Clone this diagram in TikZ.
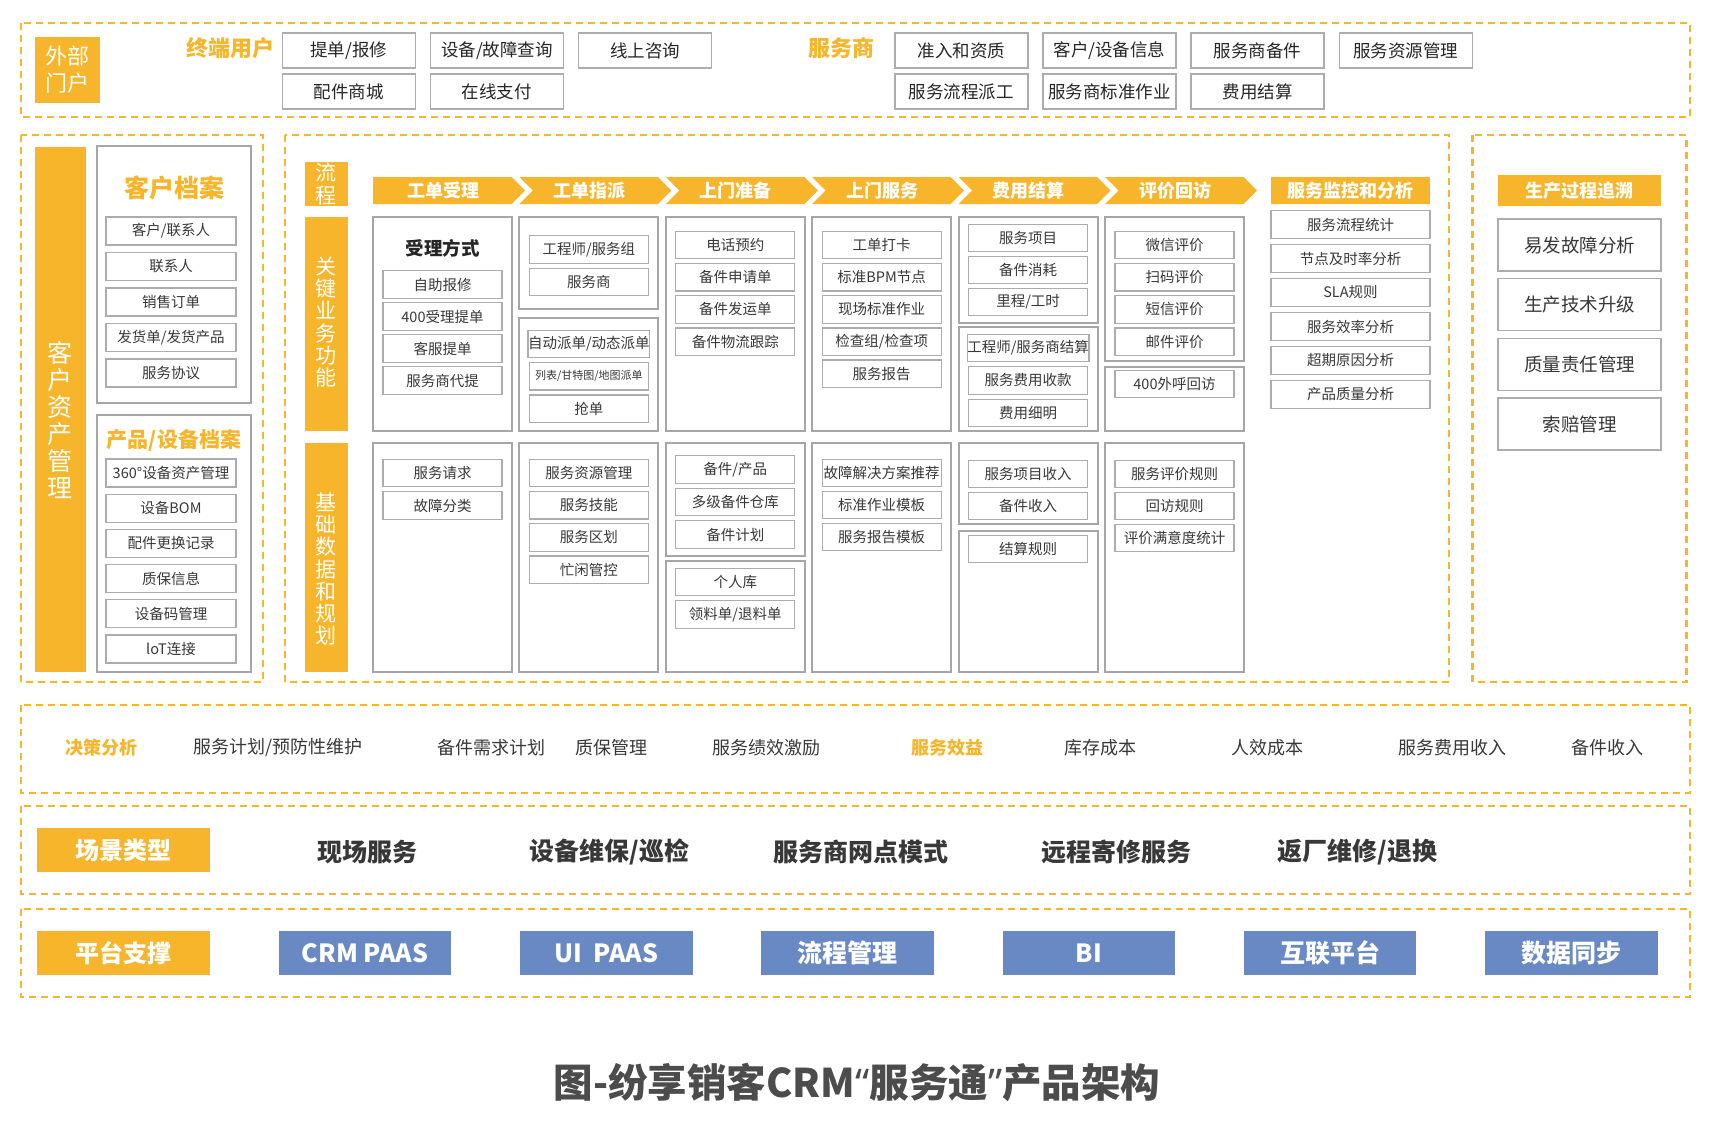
\documentclass[tikz,border=0pt]{standalone}
\usepackage{fontspec}
\setmainfont{Noto Sans CJK SC}
\newfontfamily\quotefont{Noto Sans}
\definecolor{orangeC}{RGB}{247,181,44}
\definecolor{blueC}{RGB}{104,137,196}
\definecolor{txtC}{RGB}{56,56,56}
\definecolor{lineC}{RGB}{172,172,172}
\newcommand{\fsz}[1]{\fontsize{#1}{#1}\selectfont}
% chevron of the process row: x, notch (0/1), name, text
\newcommand{\flowstep}[4]{%
  \fill[orangeC] (#1,177) -- ({#1+138.5},177) -- ({#1+152},190.5) -- ({#1+138.5},204) -- (#1,204) -- ({#1+13.5*#2},190.5) -- cycle;
  \node[steptext] (#3) at ({#1+70},190.5) {#4};}
\tikzset{
  zone/.style={draw=orangeC, line width=2.5, dash pattern=on 7 off 5},
  tag/.style={fill=orangeC, text=white, inner sep=0, font=\fsz{18}\bfseries},
  steptext/.style={text=white, inner sep=0, font=\fsz{18}\bfseries},
  vtext/.style={text=white, inner sep=0, align=center, font=\fontsize{21}{22.3}\selectfont},
  portal/.style={draw=lineC, line width=1.5, fill=white, minimum width=133, minimum height=35, inner sep=0, text=black!85, font=\fsz{17.5}},
  item/.style={draw=lineC, line width=1.3, fill=white, minimum width=119, minimum height=27.5, inner sep=0, text=txtC, font=\fsz{14.5}},
  sideitem/.style={item, minimum width=130, minimum height=28},
  panel/.style={draw=black!35, line width=2},
  head/.style={text=orangeC, inner sep=0, font=\fsz{22}\bfseries},
  plain/.style={text=txtC, inner sep=0, font=\fsz{18}},
  scene/.style={text=txtC, inner sep=0, font=\fsz{25}\bfseries},
  platform/.style={fill=blueC, text=white, minimum width=172.5, minimum height=44, inner sep=0, font=\fsz{25}\bfseries},
}
\begin{document}
\begin{tikzpicture}[x=1pt, y=-1pt]
  %%%%% START %%%%%
  \useasboundingbox (0,0) rectangle (1710,1128);

  %% external portal
  \draw[zone] (21,23) rectangle (1690,117);
  \node[tag, minimum width=65.5, minimum height=66, align=center, font=\fontsize{22}{27}\selectfont] (portal) at (67.25,70) {外部\\门户};
  \node[head] (enduser) at (230,48) {终端用户};
  \node[head] (provider) at (841,48) {服务商};
  \foreach \t [count=\i from 0] in {提单/报修,设备/故障查询,线上咨询}
    \node[portal] (eu\i) at ({348.75+148.2*\i},50.5) {\t};
  \foreach \t [count=\i from 0] in {配件商城,在线支付}
    \node[portal] (ev\i) at ({348.75+148.2*\i},91.5) {\t};
  \foreach \t [count=\i from 0] in {准入和资质,客户/设备信息,服务商备件,服务资源管理}
    \node[portal] (sp\i) at ({961.25+148.2*\i},50.5) {\t};
  \foreach \t [count=\i from 0] in {服务流程派工,服务商标准作业,费用结算}
    \node[portal] (sq\i) at ({961.25+148.2*\i},91.5) {\t};

  %% customer assets
  \draw[zone] (21,135) rectangle (263,682);
  \fill[orangeC] (34.5,147) rectangle (86,672);
  \node[vtext, font=\fontsize{25}{27}\selectfont] (asset) at (60.25,420) {客\\户\\资\\产\\管\\理};
  \draw[panel] (97,146) rectangle (251,403);
  \node[head, font=\fsz{25}\bfseries] (custfile) at (174,188) {客户档案};
  \foreach \t [count=\i from 0] in {客户/联系人,联系人,销售订单,发货单/发货产品,服务协议}
    \node[sideitem] (cf\i) at (171,{231+35.5*\i}) {\t};
  \draw[panel] (97,415) rectangle (251,672);
  \node[head, font=\fsz{21}\bfseries] (prodfile) at (174,440) {产品/设备档案};
  \foreach \t [count=\i from 0] in {360°设备资产管理,设备BOM,配件更换记录,质保信息,设备码管理,loT连接}
    \node[sideitem] (pf\i) at (171,{473+35.2*\i}) {\t};

  %% service process
  \draw[zone] (285,135) rectangle (1449,682);
  \fill[orangeC] (304.5,162) rectangle (348,206);
  \node[vtext] (flow) at (326.25,184) {流\\程};
  \fill[orangeC] (304.5,217) rectangle (348,431);
  \node[vtext] (keyfn) at (326.25,322) {关\\键\\业\\务\\功\\能};
  \fill[orangeC] (304.5,443) rectangle (348,672);
  \node[vtext] (basedata) at (326.25,569) {基\\础\\数\\据\\和\\规\\划};

  \flowstep{373}{0}{st0}{工单受理}
  \flowstep{519.4}{1}{st1}{工单指派}
  \flowstep{665.8}{1}{st2}{上门准备}
  \flowstep{812.2}{1}{st3}{上门服务}
  \flowstep{958.6}{1}{st4}{费用结算}
  \flowstep{1105}{1}{st5}{评价回访}

  % key functions
  \draw[panel] (373,217) rectangle (512,431);
  \draw[panel] (519.4,217) rectangle (658.4,309);
  \draw[panel] (519.4,318) rectangle (658.4,431);
  \draw[panel] (665.8,217) rectangle (804.8,431);
  \draw[panel] (812.2,217) rectangle (951.2,431);
  \draw[panel] (958.6,217) rectangle (1097.6,323);
  \draw[panel] (958.6,327) rectangle (1097.6,431);
  \draw[panel] (1105,217) rectangle (1244,361);
  \draw[panel] (1105,367) rectangle (1244,431);

  \node[text=black!85, inner sep=0, font=\fsz{18.5}\bfseries] (accept) at (442.5,248) {受理方式};
  \foreach \t [count=\i from 0] in {自助报修,400受理提单,客服提单,服务商代提}
    \node[item] (ka\i) at (442.5,{284.5+32*\i}) {\t};
  \foreach \t [count=\i from 0] in {工程师/服务组,服务商}
    \node[item] (kb\i) at (588.9,{249.5+32.5*\i}) {\t};
  \foreach \t [count=\i from 0] in {自动派单/动态派单,{\fsz{11}列表/甘特图/地图派单},抢单}
    \node[item] (kc\i) at (588.9,{344+32.3*\i}) {\t};
  \foreach \t [count=\i from 0] in {电话预约,备件申请单,备件发运单,备件物流跟踪}
    \node[item] (kd\i) at (735.3,{245+32.2*\i}) {\t};
  \foreach \t [count=\i from 0] in {工单打卡,标准BPM节点,现场标准作业,检查组/检查项,服务报告}
    \node[item] (ke\i) at (881.7,{245+32.2*\i}) {\t};
  \foreach \t [count=\i from 0] in {服务项目,备件消耗,里程/工时}
    \node[item] (kf\i) at (1028.1,{238+32*\i}) {\t};
  \foreach \t [count=\i from 0] in {工程师/服务商结算,服务费用收款,费用细明}
    \node[item] (kg\i) at (1028.1,{348+32.5*\i}) {\t};
  \foreach \t [count=\i from 0] in {微信评价,扫码评价,短信评价,邮件评价}
    \node[item] (kh\i) at (1174.5,{245+32.2*\i}) {\t};
  \node[item] (ki0) at (1174.5,384) {400外呼回访};

  % base data
  \draw[panel] (373,443) rectangle (512,672);
  \draw[panel] (519.4,443) rectangle (658.4,672);
  \draw[panel] (665.8,443) rectangle (804.8,556);
  \draw[panel] (665.8,561) rectangle (804.8,672);
  \draw[panel] (812.2,443) rectangle (951.2,672);
  \draw[panel] (958.6,443) rectangle (1097.6,524);
  \draw[panel] (958.6,531) rectangle (1097.6,672);
  \draw[panel] (1105,443) rectangle (1244,672);

  \foreach \t [count=\i from 0] in {服务请求,故障分类}
    \node[item] (ba\i) at (442.5,{473+32.5*\i}) {\t};
  \foreach \t [count=\i from 0] in {服务资源管理,服务技能,服务区划,忙闲管控}
    \node[item] (bb\i) at (588.9,{473+32.2*\i}) {\t};
  \foreach \t [count=\i from 0] in {备件/产品,多级备件仓库,备件计划}
    \node[item] (bc\i) at (735.3,{469.5+32.5*\i}) {\t};
  \foreach \t [count=\i from 0] in {个人库,领料单/退料单}
    \node[item] (bd\i) at (735.3,{582+32.5*\i}) {\t};
  \foreach \t [count=\i from 0] in {故障解决方案推荐,标准作业模板,服务报告模板}
    \node[item] (be\i) at (881.7,{473+32*\i}) {\t};
  \foreach \t [count=\i from 0] in {服务项目收入,备件收入}
    \node[item] (bf\i) at (1028.1,{474+32*\i}) {\t};
  \node[item] (bg0) at (1028.1,549) {结算规则};
  \foreach \t [count=\i from 0] in {服务评价规则,回访规则,评价满意度统计}
    \node[item] (bh\i) at (1174.5,{474+32*\i}) {\t};

  % monitoring
  \node[tag, minimum width=159, minimum height=27] (monitor) at (1350.5,190.5) {服务监控和分析};
  \foreach \t [count=\i from 0] in {服务流程统计,节点及时率分析,SLA规则,服务效率分析,超期原因分析,产品质量分析}
    \node[item, minimum width=159, minimum height=28] (mo\i) at (1350.5,{224.5+34*\i}) {\t};

  %% production tracing
  \draw[zone] (1472.6,135) rectangle (1686.5,682);
  \node[tag, minimum width=163, minimum height=31] (trace) at (1579.5,190.5) {生产过程追溯};
  \foreach \t [count=\i from 0] in {易发故障分析,生产技术升级,质量责任管理,索赔管理}
    \node[item, minimum width=163, minimum height=52, font=\fsz{18.5}] (tr\i) at (1579.5,{245+59.7*\i}) {\t};

  %% decision analysis
  \draw[zone] (21,705) rectangle (1690,793);
  \node[head, font=\fsz{18}\bfseries] (decide) at (101,748) {决策分析};
  \node[plain] (dA) at (278,748) {服务计划/预防性维护};
  \node[plain] (dB) at (491,748) {备件需求计划};
  \node[plain] (dC) at (611,748) {质保管理};
  \node[plain] (dD) at (766,748) {服务绩效激励};
  \node[head, font=\fsz{18}\bfseries] (benefit) at (947,748) {服务效益};
  \node[plain] (dE) at (1100,748) {库存成本};
  \node[plain] (dF) at (1267,748) {人效成本};
  \node[plain] (dG) at (1452,748) {服务费用收入};
  \node[plain] (dH) at (1607,748) {备件收入};

  %% scenes
  \draw[zone] (21,806) rectangle (1690,894);
  \node[tag, minimum width=173, minimum height=44, font=\fsz{24}\bfseries] (scenes) at (123.5,850) {场景类型};
  \node[scene] (sA) at (367.5,852) {现场服务};
  \node[scene] (sB) at (609.5,852) {设备维保/巡检};
  \node[scene] (sC) at (861,852) {服务商网点模式};
  \node[scene] (sD) at (1116,852) {远程寄修服务};
  \node[scene] (sE) at (1357.5,852) {返厂维修/退换};

  %% platform
  \draw[zone] (21,909) rectangle (1690,997);
  \node[tag, minimum width=173, minimum height=44, font=\fsz{24}\bfseries] (support) at (123.5,953) {平台支撑};
  \foreach \t [count=\i from 0] in {CRM PAAS,UI\ \ PAAS,流程管理,BI,互联平台,数据同步}
    \node[platform] (pl\i) at ({365+241.3*\i},953) {\t};

  \node[text=black!70, inner sep=0, font=\fsz{39.5}\bfseries] (title) at (857,1082) {图-纷享销客CRM{\quotefont“}服务通{\quotefont”}产品架构};
  %%%%% END %%%%%
\end{tikzpicture}
\end{document}
